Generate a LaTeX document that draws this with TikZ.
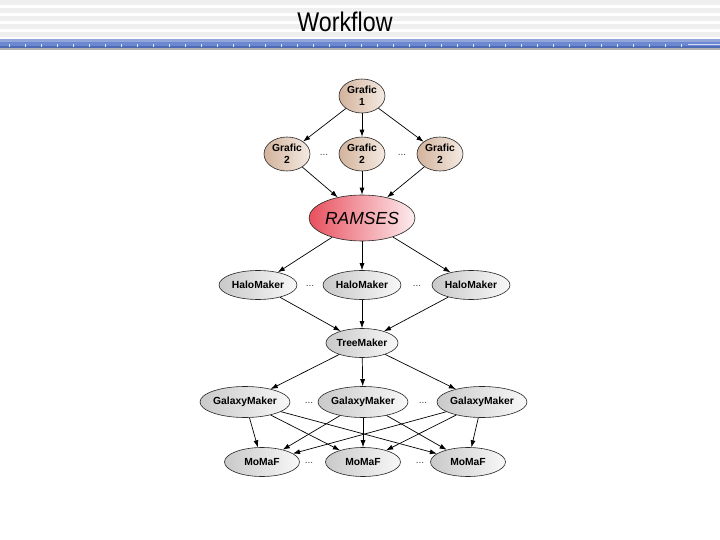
\documentclass[tikz,border=0pt]{standalone}
\usepackage{fontspec}
\setmainfont{Liberation Sans}
\usetikzlibrary{arrows.meta,shapes.geometric}
\definecolor{tandark}{HTML}{D3B39C}
\definecolor{tanlight}{HTML}{F4EAE2}
\definecolor{ramred}{HTML}{E8505E}
\definecolor{ramlight}{HTML}{FDEDEF}
\definecolor{grydark}{HTML}{C9C9C9}
\definecolor{grylight}{HTML}{F8F8F8}
\definecolor{stripe}{HTML}{EFEFEF}
\definecolor{barblue}{HTML}{6C88D2}
\definecolor{bardark}{HTML}{4E6AB4}
\definecolor{barlight}{HTML}{93A6D8}
\tikzset{
  job/.style={ellipse, draw=black!85, line width=0.6pt, inner sep=0pt, align=center,
    font=\bfseries\fontsize{10.3}{12.5}\selectfont},
  grafic/.style={job, left color=tandark, right color=tanlight, minimum width=46pt, minimum height=34pt},
  ramses/.style={ellipse, draw=black!85, line width=0.6pt, inner sep=0pt,
    left color=ramred, right color=ramlight, minimum width=106pt, minimum height=46pt,
    font=\itshape\fontsize{17.5}{20}\selectfont},
  tool/.style={job, left color=grydark, right color=grylight, minimum height=29pt},
  flow/.style={-{Latex[length=7pt,width=5pt]}, line width=0.7pt, black},
  dots/.style={font=\fontsize{10}{11}\selectfont, text=black!75}
}
\begin{document}
\begin{tikzpicture}[x=1pt, y=-1pt]
  \useasboundingbox (0,0) rectangle (720,540);
  \fill[white] (0,0) rectangle (720,540);
  % title bar
  \foreach \y in {0,8,...,32} \fill[stripe] (0,\y) rectangle (720,\y+5);
  \fill[barlight] (0,39) rectangle (720,42);
  \fill[barblue] (0,42) rectangle (720,46.5);
  \fill[bardark] (0,46.5) rectangle (720,48);
  \fill[black!30] (0,48) rectangle (720,50);
  \foreach \x in {9,25,...,681} \draw[white!80!barblue, line width=0.6pt] (\x,44) -- (\x,47.5);
  \draw[white!70!barblue, line width=0.8pt] (688,44.5) -- (720,44.5);
  \node (title) at (345,22) {\scalebox{0.86}[1]{\fontsize{27}{30}\selectfont Workflow}};

  % initial conditions
  \node[grafic] (g1) at (362,96) {Grafic\\1};
  \foreach \n/\x in {l/287,m/362,r/440}
    \node[grafic] (g2\n) at (\x,154) {Grafic\\2};
  \node[dots] (d1) at (324,155) {...};
  \node[dots] (d2) at (402,155) {...};

  % simulation
  \node[ramses] (ramses) at (362,218) {RAMSES};

  % post-processing
  \foreach \n/\x in {l/258,m/362,r/471}
    \node[tool, minimum width=78pt] (hm\n) at (\x,285) {HaloMaker};
  \node[dots] (d3) at (310,286) {...};
  \node[dots] (d4) at (417,286) {...};
  \node[tool, minimum width=71pt] (tree) at (362,343) {TreeMaker};
  \foreach \n/\x in {l/245,m/363,r/482}
    \node[tool, minimum width=90pt, minimum height=31pt] (gm\n) at (\x,402) {GalaxyMaker};
  \node[dots] (d5) at (309,403) {...};
  \node[dots] (d6) at (423,403) {...};
  \foreach \n/\x in {l/262,m/363,r/468}
    \node[tool, minimum width=75pt] (mm\n) at (\x,462) {MoMaF};
  \node[dots] (d7) at (309,463) {...};
  \node[dots] (d8) at (420,463) {...};

  % connections
  \foreach \n in {l,m,r} {
    \draw[flow] (g1) -- (g2\n);
    \draw[flow] (g2\n) -- (ramses);
    \draw[flow] (ramses) -- (hm\n);
    \draw[flow] (hm\n) -- (tree);
    \draw[flow] (tree) -- (gm\n);
  }
  \foreach \a in {l,m,r}
    \foreach \b in {l,m,r}
      \draw[flow] (gm\a) -- (mm\b);
\end{tikzpicture}
\end{document}
